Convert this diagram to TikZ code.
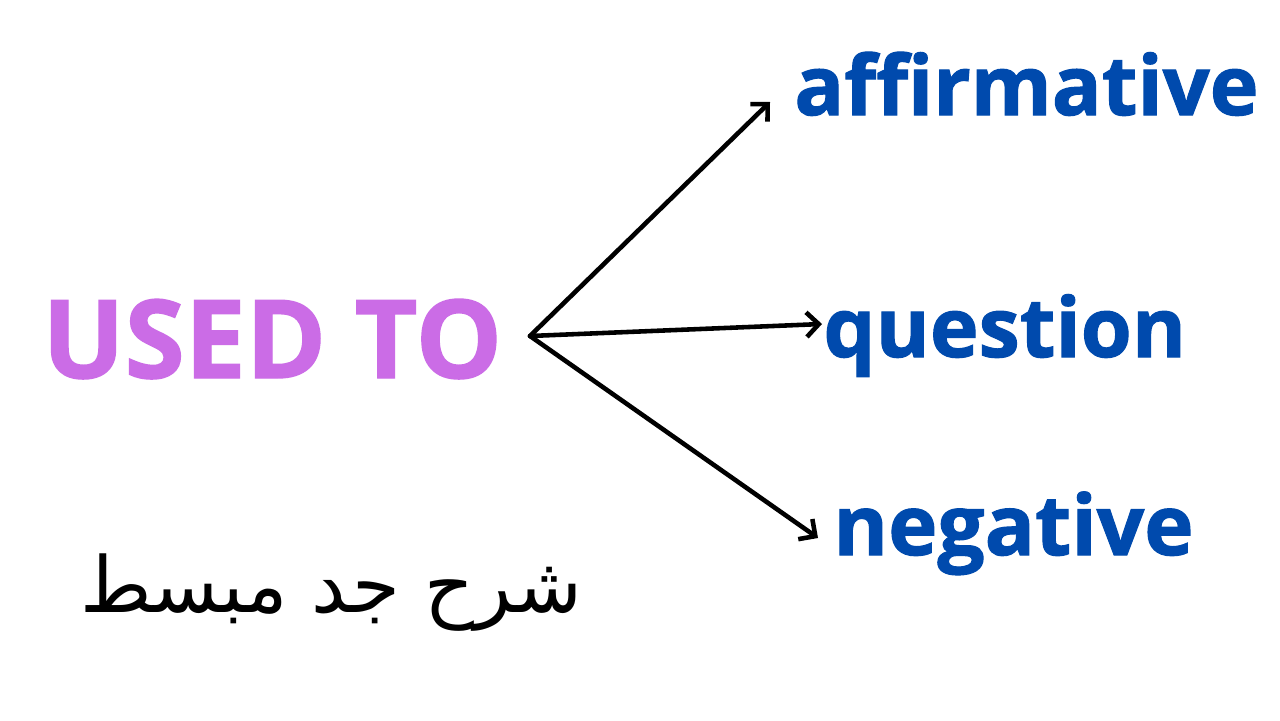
\documentclass[tikz,border=0pt]{standalone}
\usepackage{fontspec}
\setmainfont{Open Sans}[BoldFeatures={FakeBold=1.3}]
\newfontfamily\arabicfont[Script=Arabic]{DejaVu Sans}
\TeXXeTstate=1
\usetikzlibrary{arrows.meta}
\definecolor{usedviolet}{HTML}{CB6CE6}
\definecolor{answerblue}{HTML}{004AAD}
\tikzset{
  >={Straight Barb[length=7pt,width=14pt]},
  answer/.style={anchor=base west,inner sep=0,text=answerblue,font=\fontsize{47}{47}\bfseries\selectfont},
  branch/.style={->,line width=2.6pt,line cap=round}
}
\begin{document}
\begin{tikzpicture}[x=0.02cm,y=-0.02cm]
    \useasboundingbox[fill=white] (0,0) rectangle (1280,720);

    \node[anchor=base west,inner sep=0,text=usedviolet,font=\fontsize{62}{62}\bfseries\selectfont](used) at (42,378) {USED TO};

    \node[answer](aff) at (794,115) {affirmative};
    \node[answer](que) at (823,357) {question};
    \node[answer,font=\fontsize{47.5}{47.5}\bfseries\selectfont](neg) at (833,555) {negative};

    \node[anchor=base west,inner sep=0,font=\fontsize{44}{44}\arabicfont\selectfont](arab) at (80,612) {\beginR شرح جد مبسط\endR};

    \coordinate (hub) at (530,336);
    \coordinate (affTip) at (770,102);
    \coordinate (queTip) at (822,324);
    \coordinate (negTip) at (818,538);

    \foreach \t in {aff, que, neg} {
      \draw[branch] (hub) -- (\t Tip);
    }
  \end{tikzpicture}
\end{document}
